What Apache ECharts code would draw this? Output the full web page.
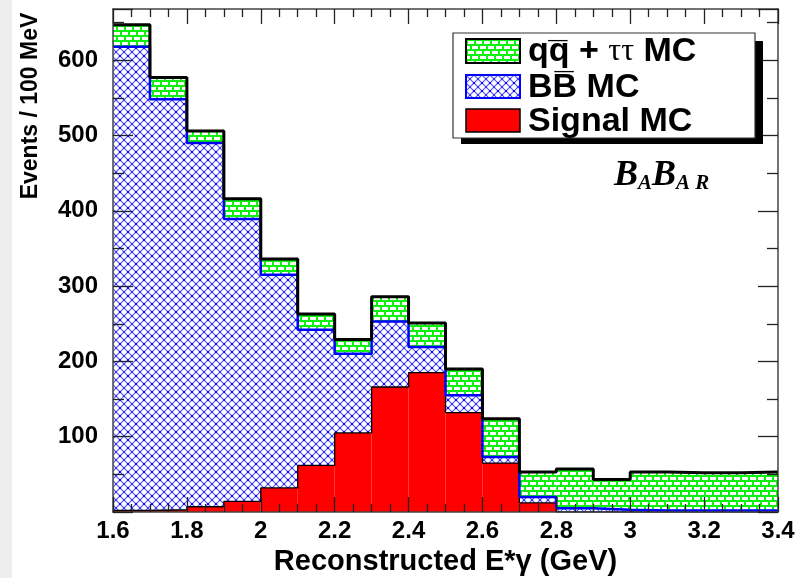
<!DOCTYPE html>
<html>
<head>
<meta charset="utf-8">
<script src="https://cdn.jsdelivr.net/npm/echarts@6/dist/echarts.min.js"></script>
<style>
  html, body { margin: 0; padding: 0; background: #fff; }
  #main { width: 809px; height: 578px; }
</style>
</head>
<body>
<div id="main"></div>
<script>
// bin low edges (GeV), each bin is 0.1 wide
const binLow = [1.6, 1.7, 1.8, 1.9, 2.0, 2.1, 2.2, 2.3, 2.4, 2.5, 2.6, 2.7, 2.8, 2.9, 3.0, 3.1, 3.2, 3.3];
const binWidth = 0.1;
// stacked components, events / 100 MeV
const signalMC = [2, 3, 7, 14, 32, 62, 105, 166, 185, 132, 65, 12, 0, 0, 0, 0, 0, 0];
const bbarMC = [616, 545, 483, 375, 283, 180, 105, 87, 34, 23, 8, 8, 5, 3, 2, 2, 2, 2];
const qqbarMC = [29, 29, 16, 27, 21, 21, 19, 33, 32, 35, 51, 33, 52, 40, 51, 50, 50, 51];
const xTicks = [1.6, 1.8, 2, 2.2, 2.4, 2.6, 2.8, 3, 3.2, 3.4];
const yTicks = [0, 100, 200, 300, 400, 500, 600];

const font = 'Liberation Sans, Arial, sans-serif';

// fill patterns like the ROOT hatch styles
function crossHatch() {
	const c = document.createElement('canvas');
	c.width = 8; c.height = 8;
	const g = c.getContext('2d');
	g.fillStyle = '#fff';
	g.fillRect(0, 0, 8, 8);
	g.strokeStyle = '#5656ff';
	g.lineWidth = 1.2;
	g.beginPath();
	g.moveTo(0, 0); g.lineTo(8, 8);
	g.moveTo(8, 0); g.lineTo(0, 8);
	g.stroke();
	g.fillStyle = '#0a0aff';
	g.fillRect(3.4, 3.4, 1.3, 1.3);
	g.fillRect(0, 0, 1, 1); g.fillRect(7, 0, 1, 1); g.fillRect(0, 7, 1, 1); g.fillRect(7, 7, 1, 1);
	return {image: c, repeat: 'repeat'};
}

function brick() {
	const c = document.createElement('canvas');
	c.width = 16; c.height = 10;
	const g = c.getContext('2d');
	g.fillStyle = '#fff';
	g.fillRect(0, 0, 16, 10);
	g.fillStyle = '#10f010';
	g.fillRect(0, 0, 16, 2);
	g.fillRect(0, 5, 16, 2);
	g.fillRect(0, 0, 2, 5);
	g.fillRect(8, 0, 2, 5);
	g.fillRect(4, 5, 2, 5);
	g.fillRect(12, 5, 2, 5);
	return {image: c, repeat: 'repeat'};
}

const bbPattern = crossHatch();
const qqPattern = brick();

const stack = (...parts) => binLow.map((_, i) => parts.reduce((s, p) => s + p[i], 0));
const sigTop = stack(signalMC);
const bbTop = stack(signalMC, bbarMC);
const allTop = stack(signalMC, bbarMC, qqbarMC);
const zeros = binLow.map(() => 0);

const binRects = (base, top) => binLow.map((x, i) => [x, x + binWidth, base[i], top[i]]);
const stepLine = top => binLow.map((x, i) => [x, top[i]])
	.concat([[binLow[binLow.length - 1] + binWidth, top[top.length - 1]]]);

function fillSeries(name, base, top, fill) {
	return {
		type: 'custom',
		name,
		silent: true,
		encode: {x: [0, 1], y: [2, 3]},
		data: binRects(base, top),
		renderItem: (params, api) => {
			const p0 = api.coord([api.value(0), api.value(2)]);
			const p1 = api.coord([api.value(1), api.value(3)]);
			return {
				type: 'rect',
				shape: {x: p0[0], y: p1[1], width: p1[0] - p0[0], height: p0[1] - p1[1]},
				style: {fill}
			};
		}
	};
}

function outline(top, color, width) {
	return {
		type: 'line',
		step: 'end',
		silent: true,
		symbol: 'none',
		data: stepLine(top),
		lineStyle: {color, width},
		z: 5
	};
}

const axisCommon = {
	type: 'value',
	z: 10,
	axisLine: {show: true, onZero: false, lineStyle: {color: '#444', width: 1.5}},
	splitLine: {show: false}
};
const labelStyle = {color: '#000', fontFamily: font, fontWeight: 'bold', fontSize: 24};

const chart = echarts.init(document.getElementById('main'), null, {renderer: 'canvas'});

chart.setOption({
	backgroundColor: '#fff',
	animation: false,
	grid: {left: 113, right: 31, top: 9, bottom: 66, outerBoundsMode: 'none', containLabel: false},
	xAxis: [
		Object.assign({}, axisCommon, {
			min: xTicks[0], max: xTicks[xTicks.length - 1], interval: 0.2,
			position: 'bottom',
			axisTick: {inside: true, length: 15, lineStyle: {color: '#222', width: 1.3}},
			minorTick: {show: true, splitNumber: 4, length: 8, lineStyle: {color: '#222', width: 1.3}},
			axisLabel: Object.assign({margin: 7}, labelStyle),
			name: 'Reconstructed E*\u03b3 (GeV)',
			nameLocation: 'middle',
			nameGap: 35,
			nameTextStyle: {color: '#000', fontFamily: font, fontWeight: 'bold', fontSize: 29}
		}),
		Object.assign({}, axisCommon, {
			min: xTicks[0], max: xTicks[xTicks.length - 1], interval: 0.2,
			position: 'top',
			axisTick: {inside: true, length: 15, lineStyle: {color: '#222', width: 1.3}},
			minorTick: {show: true, splitNumber: 4, length: 8, lineStyle: {color: '#222', width: 1.3}},
			axisLabel: {show: false}
		})
	],
	yAxis: [
		Object.assign({}, axisCommon, {
			min: yTicks[0], max: 668, interval: 100,
			position: 'left',
			axisTick: {inside: true, length: 20, lineStyle: {color: '#222', width: 1.3}},
			minorTick: {show: true, splitNumber: 2, length: 11, lineStyle: {color: '#222', width: 1.3}},
			axisLabel: Object.assign({
				margin: 15,
				formatter: v => (yTicks.indexOf(v) > 0 ? String(v) : '')
			}, labelStyle)
		}),
		Object.assign({}, axisCommon, {
			min: yTicks[0], max: 668, interval: 100,
			position: 'right',
			axisTick: {inside: true, length: 20, lineStyle: {color: '#222', width: 1.3}},
			minorTick: {show: true, splitNumber: 2, length: 11, lineStyle: {color: '#222', width: 1.3}},
			axisLabel: {show: false}
		})
	],
	series: [
		fillSeries('Signal MC', zeros, sigTop, '#ff0000'),
		fillSeries('BB MC', sigTop, bbTop, bbPattern),
		fillSeries('qq MC', bbTop, allTop, qqPattern),
		outline(sigTop, '#000', 1.3),
		outline(bbTop, '#0000ff', 2.5),
		outline(allTop, '#000', 3)
	],
	graphic: [
		// faint grey strip on the left edge of the scan
		{type: 'rect', left: 0, top: 0, z: -1, shape: {width: 12, height: 578}, style: {fill: '#eeeeee'}},
		{
			type: 'text', x: 31, y: 106, rotation: Math.PI / 2, z: 20,
			style: {
				text: 'Events / 100 MeV', fill: '#000', font: 'bold 23px ' + font,
				align: 'center', verticalAlign: 'middle'
			}
		},
		// legend box with drop shadow
		{type: 'rect', x: 461, y: 41, z: 20, shape: {width: 302, height: 103}, style: {fill: '#000'}},
		{type: 'rect', x: 453, y: 33, z: 21, shape: {width: 302, height: 105}, style: {fill: '#fff', stroke: '#333', lineWidth: 1.2}},
		{type: 'rect', x: 466, y: 39, z: 22, shape: {width: 54, height: 24}, style: {fill: qqPattern, stroke: '#000', lineWidth: 2}},
		{type: 'rect', x: 466, y: 75, z: 22, shape: {width: 54, height: 23}, style: {fill: bbPattern, stroke: '#0000ff', lineWidth: 2}},
		{type: 'rect', x: 466, y: 109, z: 22, shape: {width: 54, height: 23}, style: {fill: '#ff0000', stroke: '#000', lineWidth: 1.5}},
		{
			type: 'text', x: 528, y: 52, z: 22,
			style: {
				text: '{b|qq\u0305 + }{t|\u03c4\u03c4}{b| MC}',
				verticalAlign: 'middle',
				rich: {
					b: {font: 'bold 34px ' + font, fill: '#000'},
					t: {font: '32px Liberation Serif, serif', fill: '#000'}
				}
			}
		},
		{type: 'text', x: 528, y: 88, z: 22, style: {text: 'BB\u0305 MC', font: 'bold 34px ' + font, fill: '#000', verticalAlign: 'middle'}},
		{type: 'text', x: 528, y: 122, z: 22, style: {text: 'Signal MC', font: 'bold 34px ' + font, fill: '#000', verticalAlign: 'middle'}},
		// experiment logo
		{
			type: 'text', x: 614, y: 176, z: 22,
			style: {
				text: '{B|B}{s|A}{B|B}{s|A R}',
				verticalAlign: 'middle',
				rich: {
					B: {font: 'italic bold 36px Liberation Serif, serif', fill: '#000', verticalAlign: 'bottom'},
					s: {font: 'italic bold 21px Liberation Serif, serif', fill: '#000', verticalAlign: 'bottom'}
				}
			}
		}
	]
});
</script>
</body>
</html>
